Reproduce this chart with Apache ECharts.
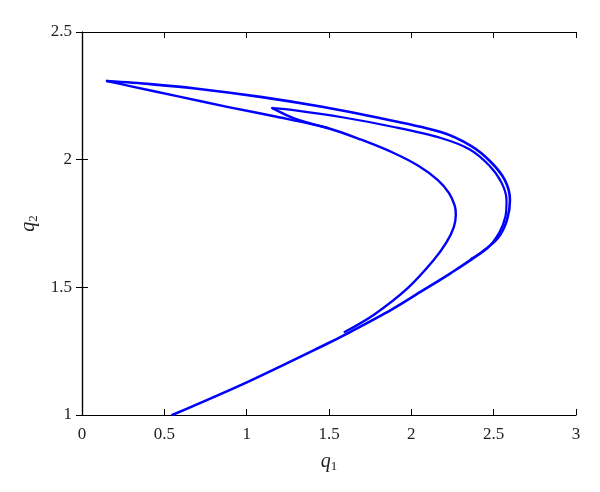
<!DOCTYPE html>
<html>
<head>
<meta charset="utf-8">
<script src="https://cdn.jsdelivr.net/npm/echarts@6/dist/echarts.min.js"></script>
<style>html,body{margin:0;padding:0;background:#fff}#c{width:600px;height:492px}</style>
</head>
<body>
<div id="c"></div>
<script>
// Branch A: bottom -> outer bend -> top edge -> left tip
var outerQ1 = [0.548,1.004,1.491,1.613,1.875,2.075,2.240,2.422,2.526,2.581,2.599,2.568,2.483,2.362,2.179,1.814,1.449,1.083,0.688,0.414,0.152];
var outerQ2 = [1.000,1.129,1.280,1.320,1.411,1.490,1.556,1.635,1.693,1.764,1.842,1.920,1.991,2.054,2.108,2.162,2.208,2.246,2.279,2.296,2.308];
// Branch B: left tip -> lower arm -> inner bend -> inner end
var innerQ1 = [0.152,0.292,0.584,0.889,1.175,1.491,1.692,1.893,2.045,2.161,2.228,2.264,2.270,2.258,2.215,2.136,1.978,1.771,1.595];
var innerQ2 = [2.308,2.288,2.248,2.206,2.169,2.124,2.079,2.026,1.975,1.920,1.870,1.819,1.783,1.736,1.678,1.607,1.497,1.392,1.325];
// Branch C: secondary hook, upper arm running just inside the outer bend
var hookQ1 = [1.156,1.284,1.589,1.893,2.179,2.355,2.472,2.548,2.578,2.572,2.536,2.460,2.362];
var hookQ2 = [2.202,2.194,2.165,2.128,2.085,2.040,1.978,1.910,1.842,1.779,1.717,1.652,1.611];
// Branch D: secondary hook, lower arm joining the lower arm of B
var hookLowQ1 = [1.156,1.284,1.491];
var hookLowQ2 = [2.202,2.163,2.124];

var xTicks = [0,0.5,1,1.5,2,2.5,3];
var yTicks = [1,1.5,2,2.5];

function pairs(a,b){return a.map(function(v,i){return [v,b[i]];});}

var font = 'Liberation Serif';
var blue = '#0000ff';
function lineSeries(a,b,w){
  return {type:'line', data:pairs(a,b), smooth:0.3, showSymbol:false, symbol:'none',
          lineStyle:{color:blue, width:w, cap:'round', join:'round'}, silent:true, animation:false, clip:true};
}

var chart = echarts.init(document.getElementById('c'), null, {renderer:'canvas'});
var axisLineStyle = {lineStyle:{color:'#000', width:1.2}};
var nameRich = {q:{fontFamily:font, fontStyle:'italic', fontSize:20, color:'#222'},
                s:{fontFamily:font, fontSize:13, color:'#222', padding:[9,0,0,0]}};
chart.setOption({
  backgroundColor:'#fff',
  animation:false,
  grid:{left:82, right:24, top:32, bottom:77},
  xAxis:[{
    type:'value', min:xTicks[0], max:xTicks[xTicks.length-1], interval:0.5,
    axisLine:axisLineStyle, axisTick:{inside:true, length:6, lineStyle:{color:'#000'}},
    splitLine:{show:false},
    axisLabel:{color:'#222', fontFamily:font, fontSize:17, margin:11},
    name:'{q|q}{s|1}', nameLocation:'middle', nameGap:36,
    nameTextStyle:{rich:nameRich}
  },{
    type:'value', position:'top', min:0, max:3, interval:0.5,
    axisLine:axisLineStyle, axisTick:{inside:true, length:6, lineStyle:{color:'#000'}},
    axisLabel:{show:false}, splitLine:{show:false}
  }],
  yAxis:[{
    type:'value', min:yTicks[0], max:yTicks[yTicks.length-1], interval:0.5,
    axisLine:axisLineStyle, axisTick:{inside:true, length:6, lineStyle:{color:'#000'}},
    splitLine:{show:false},
    axisLabel:{color:'#222', fontFamily:font, fontSize:17, margin:10},
    name:'{q|q}{s|2}', nameLocation:'middle', nameGap:38, nameRotate:90,
    nameTextStyle:{rich:nameRich}
  },{
    type:'value', position:'right', min:1, max:2.5, interval:0.5,
    axisLine:axisLineStyle, axisTick:{inside:true, length:6, lineStyle:{color:'#000'}},
    axisLabel:{show:false}, splitLine:{show:false}
  }],
  series:[
    lineSeries(outerQ1, outerQ2, 2.6),
    lineSeries(innerQ1, innerQ2, 2.4),
    lineSeries(hookQ1, hookQ2, 2.2),
    lineSeries(hookLowQ1, hookLowQ2, 2.4)
  ]
});
</script>
</body>
</html>
